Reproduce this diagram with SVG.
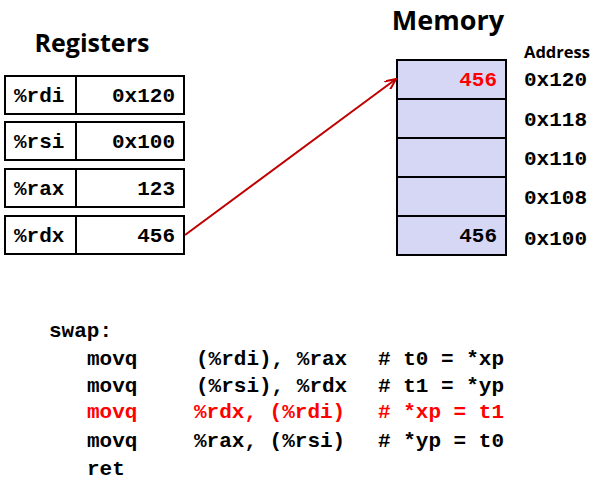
<svg xmlns="http://www.w3.org/2000/svg" width="594" height="482" viewBox="0 0 594 482">
<style>
.title{font-family:"Open Sans","Liberation Sans",sans-serif;font-weight:bold;fill:#000}
.mono{font-family:"Liberation Mono","DejaVu Sans Mono",monospace;font-weight:bold;font-size:21px;fill:#000}
.red{fill:#ff0000}
.box{fill:#fff;stroke:#000;stroke-width:2}
.mem{fill:#d6d6f5;stroke:#000;stroke-width:2}
.addr{font-family:"Open Sans","Liberation Sans",sans-serif;font-weight:bold;font-size:16.5px;fill:#000}
</style>
<defs>
<marker id="ah" markerWidth="12" markerHeight="10" refX="11" refY="5" orient="auto" markerUnits="userSpaceOnUse">
<path d="M0,0 L11,5 L0,10" fill="none" stroke="#c00000" stroke-width="2"/>
</marker>
</defs>
<text class="title" x="92" y="52" text-anchor="middle" font-size="25">Registers</text>
<text class="title" x="448" y="30" text-anchor="middle" font-size="27">Memory</text>
<text class="addr" x="524" y="58">Address</text>
<g id="reg-rdi">
<rect class="box" x="5" y="76" width="179" height="38"/>
<line x1="76" y1="76" x2="76" y2="114" stroke="#000" stroke-width="2"/>
<text class="mono" x="14" y="102">%rdi</text>
<text class="mono" x="175" y="102" text-anchor="end">0x120</text>
</g>
<g id="reg-rsi">
<rect class="box" x="5" y="122" width="179" height="38"/>
<line x1="76" y1="122" x2="76" y2="160" stroke="#000" stroke-width="2"/>
<text class="mono" x="14" y="148">%rsi</text>
<text class="mono" x="175" y="148" text-anchor="end">0x100</text>
</g>
<g id="reg-rax">
<rect class="box" x="5" y="169" width="179" height="38"/>
<line x1="76" y1="169" x2="76" y2="207" stroke="#000" stroke-width="2"/>
<text class="mono" x="14" y="195">%rax</text>
<text class="mono" x="175" y="195" text-anchor="end">123</text>
</g>
<g id="reg-rdx">
<rect class="box" x="5" y="216" width="179" height="38"/>
<line x1="76" y1="216" x2="76" y2="254" stroke="#000" stroke-width="2"/>
<text class="mono" x="14" y="242">%rdx</text>
<text class="mono" x="175" y="242" text-anchor="end">456</text>
</g>
<g id="memory">
<rect class="mem" x="397" y="60" width="109" height="39"/>
<rect class="mem" x="397" y="99" width="109" height="39"/>
<rect class="mem" x="397" y="138" width="109" height="39"/>
<rect class="mem" x="397" y="177" width="109" height="39"/>
<rect class="mem" x="397" y="216" width="109" height="39"/>
<text class="mono red" x="497" y="86" text-anchor="end">456</text>
<text class="mono" x="497" y="242" text-anchor="end">456</text>
</g>
<g id="addresses">
<text class="mono" x="524" y="86">0x120</text>
<text class="mono" x="524" y="126">0x118</text>
<text class="mono" x="524" y="165">0x110</text>
<text class="mono" x="524" y="204">0x108</text>
<text class="mono" x="524" y="245">0x100</text>
</g>
<g id="connectors">
<line x1="185" y1="235" x2="396" y2="79" stroke="#c00000" stroke-width="2" marker-end="url(#ah)"/>
</g>
<g id="code">
<text class="mono" x="49" y="337">swap:</text>
<text class="mono" x="87" y="365">movq</text>
<text class="mono" x="196" y="365">(%rdi), %rax</text>
<text class="mono" x="378" y="365"># t0 = *xp</text>
<text class="mono" x="87" y="392">movq</text>
<text class="mono" x="196" y="392">(%rsi), %rdx</text>
<text class="mono" x="378" y="392"># t1 = *yp</text>
<text class="mono red" x="87" y="418">movq</text>
<text class="mono red" x="194" y="418">%rdx, (%rdi)</text>
<text class="mono red" x="378" y="418"># *xp = t1</text>
<text class="mono" x="87" y="447">movq</text>
<text class="mono" x="194" y="447">%rax, (%rsi)</text>
<text class="mono" x="378" y="447"># *yp = t0</text>
<text class="mono" x="87" y="475">ret</text>
</g>
</svg>
